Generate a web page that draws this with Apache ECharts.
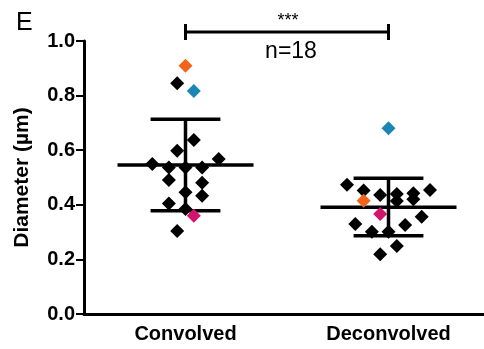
<!DOCTYPE html>
<html style="height: 100%">
<head>
    <script src="https://cdn.jsdelivr.net/npm/echarts@6/dist/echarts.min.js"></script>
</head>
<body style="height: 100%; margin: 0; background: #fff">
    <div id="main" style="width: 484px; height: 349px"></div>
    <script type="text/javascript">
    var chartDom = document.getElementById('main');
    var myChart = echarts.init(chartDom);

    var categories = ['Convolved', 'Deconvolved'];
    var yTicks = [0, 0.2, 0.4, 0.6, 0.8, 1.0];

    // black diamonds, value + swarm slot (column index around the group centre)
    var convBlack = [0.845, 0.637, 0.598, 0.549, 0.537, 0.537, 0.537, 0.568, 0.491, 0.481, 0.446, 0.433, 0.405, 0.385, 0.304];
    var convSlot  = [-1, 1, -1, -4, -2, 0, 2, 4, -2, 2, 0, 2, -2, 0, -1];
    var deconBlack = [0.473, 0.452, 0.436, 0.440, 0.414, 0.442, 0.420, 0.454, 0.356, 0.330, 0.326, 0.301, 0.301, 0.249, 0.219];
    var deconSlot  = [-5, -3, -1, 1, 1, 3, 3, 5, 4, -4, 2, -2, 0, 1, -1];

    // highlighted cells: [convolved, deconvolved] values and slots
    var orangeVals = [0.909, 0.415], orangeSlot = [0, -3];
    var blueVals = [0.817, 0.680], blueSlot = [1, 0];
    var pinkVals = [0.360, 0.366], pinkSlot = [1, -1];

    // mean and SD
    var means = [0.546, 0.391];
    var sdLow = [0.378, 0.287];
    var sdHigh = [0.713, 0.497];

    var sigText = '***';
    var nText = 'n=18';
    var sigLevel = 1.033;

    var slotPx = 8.3;
    var font = "'Liberation Sans', Arial, sans-serif";

    function pts(cat, vals, slots) {
        return vals.map(function (v, i) {
            return { value: [cat, v], symbolOffset: [slots[i] * slotPx, 0] };
        });
    }
    function pairPts(vals, slots) {
        return vals.map(function (v, i) {
            return { value: [i, v], symbolOffset: [slots[i] * slotPx, 0] };
        });
    }

    var blackData = pts(0, convBlack, convSlot).concat(pts(1, deconBlack, deconSlot));
    var statData = means.map(function (m, i) { return [i, m, sdLow[i], sdHigh[i]]; });

    function scatter(name, data, color) {
        return {
            name: name, type: 'scatter', symbol: 'diamond', symbolSize: 14,
            itemStyle: { color: color, opacity: 1 }, z: 5, data: data
        };
    }

    var option = {
        backgroundColor: '#fff',
        animation: false,
        title: {
            text: 'E', left: 11, top: 6,
            textStyle: { fontFamily: font, fontWeight: 'normal', fontSize: 25, color: '#000' }
        },
        grid: { left: 84, top: 41, bottom: 35, width: 406, outerBoundsMode: 'none' },
        xAxis: {
            type: 'category',
            data: categories,
            axisLine: { lineStyle: { color: '#000', width: 3 } },
            axisTick: { alignWithLabel: true, length: 8, lineStyle: { color: '#000', width: 2 } },
            axisLabel: { color: '#000', fontFamily: font, fontWeight: 'bold', fontSize: 20, margin: 10 },
            splitLine: { show: false }
        },
        yAxis: {
            type: 'value',
            min: 0, max: 1.0, interval: 0.2,
            name: 'Diameter (µm)',
            nameLocation: 'middle',
            nameGap: 51,
            nameTextStyle: { color: '#000', fontFamily: font, fontWeight: 'bold', fontSize: 21 },
            axisLine: { show: true, lineStyle: { color: '#000', width: 3 } },
            axisTick: { show: true, length: 8, lineStyle: { color: '#000', width: 2 } },
            axisLabel: {
                color: '#000', fontFamily: font, fontWeight: 'bold', fontSize: 20, margin: 9,
                formatter: function (v) { return yTicks.indexOf(v) >= 0 ? v.toFixed(1) : ''; }
            },
            splitLine: { show: false }
        },
        series: [
            {
                type: 'custom',
                z: 3,
                clip: false,
                encode: { x: 0, y: 1 },
                renderItem: function (params, api) {
                    var c = api.value(0);
                    var mid = api.coord([c, api.value(1)]);
                    var lo = api.coord([c, api.value(2)]);
                    var hi = api.coord([c, api.value(3)]);
                    var band = api.size([1, 0])[0];
                    var mw = band * 0.335, cw = band * 0.172;
                    var st = { stroke: '#000', lineWidth: 3.5 };
                    return {
                        type: 'group',
                        children: [
                            { type: 'line', shape: { x1: mid[0] - mw, y1: mid[1], x2: mid[0] + mw, y2: mid[1] }, style: st },
                            { type: 'line', shape: { x1: hi[0] - cw, y1: hi[1], x2: hi[0] + cw, y2: hi[1] }, style: st },
                            { type: 'line', shape: { x1: lo[0] - cw, y1: lo[1], x2: lo[0] + cw, y2: lo[1] }, style: st },
                            { type: 'line', shape: { x1: mid[0], y1: hi[1], x2: mid[0], y2: lo[1] }, style: st }
                        ]
                    };
                },
                data: statData
            },
            {
                type: 'custom',
                z: 4,
                clip: false,
                encode: { x: 0, y: 1 },
                renderItem: function (params, api) {
                    var a = api.coord([0, sigLevel]);
                    var b = api.coord([1, sigLevel]);
                    var st = { stroke: '#000', lineWidth: 3 };
                    var cx = (a[0] + b[0]) / 2;
                    return {
                        type: 'group',
                        children: [
                            { type: 'line', shape: { x1: a[0], y1: a[1], x2: b[0], y2: b[1] }, style: st },
                            { type: 'line', shape: { x1: a[0], y1: a[1] - 8, x2: a[0], y2: a[1] + 8 }, style: st },
                            { type: 'line', shape: { x1: b[0], y1: b[1] - 8, x2: b[0], y2: b[1] + 8 }, style: st },
                            { type: 'text', x: cx + 1, y: a[1] - 2, style: { text: sigText, fill: '#000', font: '18px ' + font, align: 'center', verticalAlign: 'bottom' } },
                            { type: 'text', x: cx + 4, y: a[1] + 8, style: { text: nText, fill: '#000', font: '23px ' + font, align: 'center', verticalAlign: 'top' } }
                        ]
                    };
                },
                data: [[0, sigLevel]]
            },
            scatter('black', blackData, '#000'),
            scatter('orange', pairPts(orangeVals, orangeSlot), '#f26419'),
            scatter('blue', pairPts(blueVals, blueSlot), '#1b86b3'),
            scatter('pink', pairPts(pinkVals, pinkSlot), '#d4136c')
        ]
    };

    myChart.setOption(option);
    </script>
</body>
</html>
